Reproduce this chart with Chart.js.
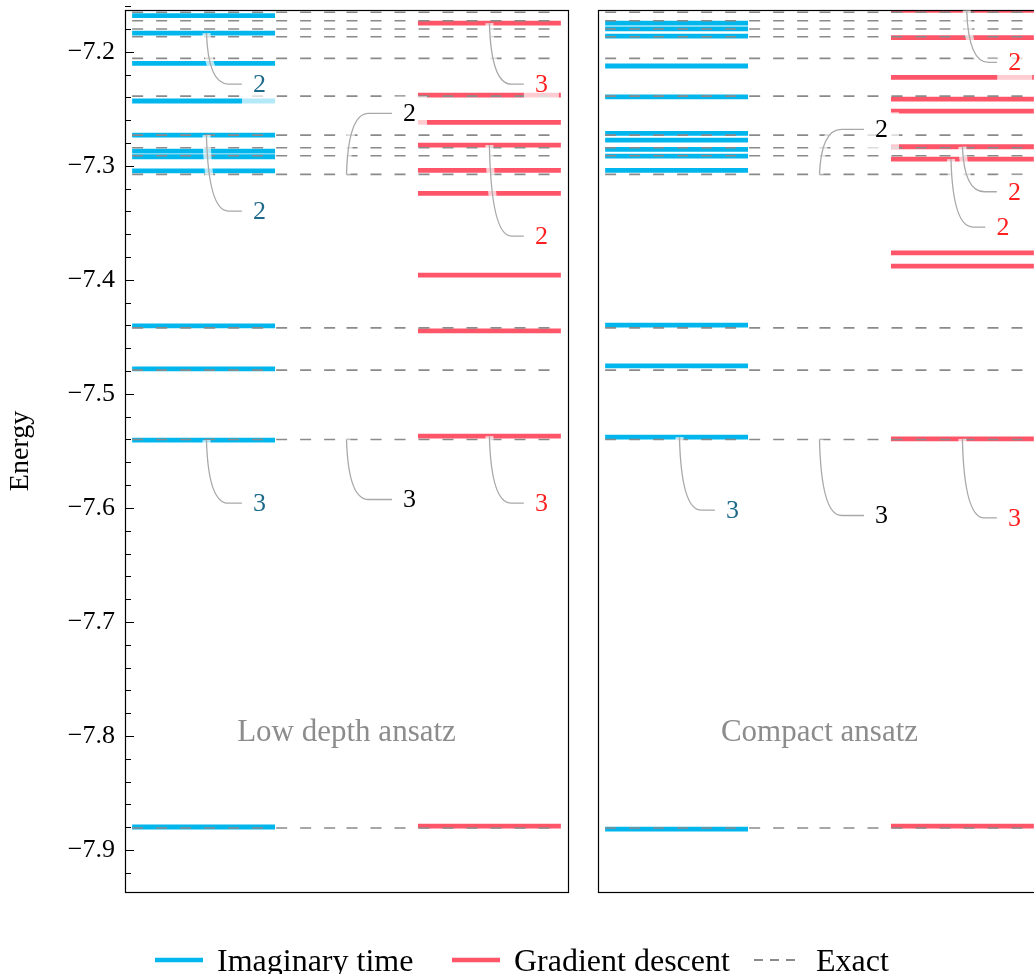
<!DOCTYPE html>
<html>
<head>
<meta charset="utf-8">
<script src="https://cdn.jsdelivr.net/npm/chart.js@4.4.1/dist/chart.umd.min.js"></script>
<style>
  html, body { margin: 0; padding: 0; background: #fff; }
  body { width: 1034px; height: 974px; overflow: hidden; position: relative; font-family: 'Liberation Serif', serif; }
  canvas { position: absolute; top: 0; }
  #left { left: 0; }
  #right { left: 590px; }
  .leg { position: absolute; top: 940px; height: 40px; display: flex; align-items: center; font-size: 32px; color: #000; }
  .leg svg { margin-right: 14px; }
</style>
</head>
<body>
<canvas id="left" width="580" height="974"></canvas>
<canvas id="right" width="460" height="974"></canvas>
<div id="legend"></div>
<script>
// ─── Data ───
const seriesLabels = ['Imaginary time', 'Gradient descent', 'Exact'];
const panelTitles = ['Low depth ansatz', 'Compact ansatz'];
const yTicks = [-7.9, -7.8, -7.7, -7.6, -7.5, -7.4, -7.3, -7.2];

const exactLevels = [-7.1654, -7.1728, -7.1801, -7.1868, -7.2058, -7.2389, -7.2731,
  -7.2842, -7.2912, -7.3075, -7.4421, -7.4792, -7.5400, -7.8807];

const lowDepthImag = [-7.1684, -7.1836, -7.2102, -7.2432, -7.2731, -7.2871, -7.2921,
  -7.3044, -7.4403, -7.4781, -7.5406, -7.8798];
const lowDepthGrad = [-7.1749, -7.2380, -7.2619, -7.2818, -7.3040, -7.3242, -7.3959,
  -7.4447, -7.5371, -7.8790];

const compactImag = [-7.1749, -7.1799, -7.1863, -7.2125, -7.2395, -7.2716, -7.2775,
  -7.2856, -7.2915, -7.3040, -7.4397, -7.4754, -7.5380, -7.8816];
const compactGrad = [-7.1638, -7.1877, -7.2225, -7.2415, -7.2520, -7.2833, -7.2941,
  -7.3763, -7.3880, -7.5395, -7.8790];

// degeneracies: [series, level, count]
const lowDepthDegen = [['imag', -7.1836, 2], ['imag', -7.2731, 2], ['imag', -7.5406, 3],
  ['exact', -7.3075, 2], ['exact', -7.5400, 3],
  ['grad', -7.1749, 3], ['grad', -7.2818, 2], ['grad', -7.5371, 3]];
const compactDegen = [['imag', -7.5380, 3], ['exact', -7.3075, 2], ['exact', -7.5400, 3],
  ['grad', -7.1638, 2], ['grad', -7.2833, 2], ['grad', -7.2941, 2], ['grad', -7.5395, 3]];

// ─── Layout / style ───
const COLORS = { imag: '#00b6ec', grad: '#ff5569', exact: '#8a8a8a' };
const LABEL_COLORS = { imag: '#1d6a8b', grad: '#ff1f1f', exact: '#000000' };
const FONT = "'Liberation Serif', serif";
// where each degeneracy label sits: [x of connector start (data), dx px, dy px]
const lowDepthAnnoPos = [[0.52, 53, 51], [0.52, 53, 76], [0.52, 53, 63], [1.5, 63, -61],
  [1.5, 63, 60], [2.5, 52, 61], [2.5, 52, 91], [2.5, 52, 67]];
const compactAnnoPos = [[0.52, 53, 73], [1.5, 62, -45], [1.5, 62, 76], [2.53, 48, 52],
  [2.5, 52, 45], [2.42, 52, 68], [2.5, 52, 79]];

function levelSets(values, x0, x1, color) {
  return values.map(v => ({
    data: [{ x: x0, y: v }, { x: x1, y: v }],
    borderColor: color, borderWidth: 4.8, pointRadius: 0, order: 1
  }));
}

// exact lines are drawn in two halves (dash pattern restarts in the middle)
function exactSets(values) {
  return values.flatMap(v => [[0, 1.5], [1.5, 3]].map(([a, b]) => ({
    data: [{ x: a, y: v }, { x: b, y: v }],
    borderColor: COLORS.exact, borderWidth: 1.6, borderDash: [11, 13],
    pointRadius: 0, order: 0
  })));
}

// frame, inward ticks, panel title
const framePlugin = {
  id: 'frame',
  afterDatasetsDraw(chart, args, opts) {
    const { ctx, chartArea: a, scales: { y } } = chart;
    ctx.save();
    ctx.strokeStyle = '#000';
    ctx.lineWidth = 1.2;
    ctx.strokeRect(Math.round(a.left) + 0.5, Math.round(a.top) + 0.5,
      Math.round(a.right - a.left), Math.round(a.bottom - a.top));
    if (opts.ticks) {
      ctx.lineWidth = 1;
      for (let v = -7.92; v <= -7.16; v += 0.02) {
        const py = Math.round(y.getPixelForValue(v)) + 0.5;
        const major = yTicks.some(t => Math.abs(t - v) < 1e-6);
        ctx.beginPath();
        ctx.moveTo(a.left, py);
        ctx.lineTo(a.left + (major ? 9 : 6), py);
        ctx.stroke();
      }
    }
    ctx.fillStyle = '#8c8c8c';
    ctx.font = '31px ' + FONT;
    ctx.textAlign = 'center';
    ctx.textBaseline = 'middle';
    ctx.fillText(opts.title, (a.left + a.right) / 2, y.getPixelForValue(-7.797));
    ctx.restore();
  }
};

// degeneracy labels with curved connectors
const degenPlugin = {
  id: 'degen',
  afterDatasetsDraw(chart, args, opts) {
    const { ctx, scales: { x, y } } = chart;
    ctx.save();
    ctx.font = '26px ' + FONT;
    opts.items.forEach(([series, level, n], i) => {
      const [xd, dx, dy] = opts.pos[i];
      const x0 = x.getPixelForValue(xd), y0 = y.getPixelForValue(level);
      const cx = x0 + dx, cy = y0 + dy;
      const label = String(n);
      const w = ctx.measureText(label).width;
      const bl = cx - w / 2 - 11;
      const path = () => {
        ctx.beginPath();
        ctx.moveTo(x0, y0);
        ctx.bezierCurveTo(x0 + 1, y0 + 0.55 * dy, x0 + 6, cy, x0 + 22, cy);
        ctx.lineTo(bl, cy);
      };
      path();
      ctx.strokeStyle = 'rgba(255,255,255,0.7)';
      ctx.lineWidth = 8;
      ctx.stroke();
      path();
      ctx.strokeStyle = '#a8a8a8';
      ctx.lineWidth = 1.3;
      ctx.stroke();
      ctx.fillStyle = 'rgba(255,255,255,0.7)';
      ctx.fillRect(bl, cy - 17, w + 22, 37);
      ctx.fillStyle = LABEL_COLORS[series];
      ctx.textAlign = 'center';
      ctx.textBaseline = 'middle';
      ctx.fillText(label, cx, cy + 1);
    });
    ctx.restore();
  }
};

function makeChart(id, imag, grad, degen, pos, title, showAxis, padding) {
  return new Chart(document.getElementById(id), {
    type: 'line',
    data: {
      datasets: [
        ...levelSets(imag, 0, 1, COLORS.imag),
        ...levelSets(grad, 2, 3, COLORS.grad),
        ...exactSets(exactLevels)
      ]
    },
    options: {
      responsive: false,
      animation: false,
      layout: { padding },
      scales: {
        x: { type: 'linear', min: -0.05, max: 3.05, display: false },
        y: {
          type: 'linear', min: -7.9368, max: -7.1634,
          display: showAxis,
          afterBuildTicks: s => { s.ticks = yTicks.map(v => ({ value: v })); },
          afterFit: s => {
            s.width = showAxis ? 125 : 0;
            s.paddingTop = 0;
            s.paddingBottom = 0;
          },
          grid: { display: false, drawTicks: false },
          border: { display: false },
          ticks: {
            padding: 10, color: '#000',
            font: { family: FONT, size: 26 },
            callback: v => '\u2212' + Math.abs(v).toFixed(1)
          },
          title: {
            display: true, text: 'Energy', color: '#000',
            font: { family: FONT, size: 28, lineHeight: 1.2 },
            padding: { top: 4, bottom: 0 }
          }
        }
      },
      plugins: {
        legend: { display: false },
        tooltip: { enabled: false },
        frame: { ticks: showAxis, title },
        degen: { items: degen, pos }
      }
    },
    plugins: [framePlugin, degenPlugin]
  });
}

makeChart('left', lowDepthImag, lowDepthGrad, lowDepthDegen, lowDepthAnnoPos, panelTitles[0], true,
  { top: 10, bottom: 82, left: 0, right: 12 });
makeChart('right', compactImag, compactGrad, compactDegen, compactAnnoPos, panelTitles[1], false,
  { top: 10, bottom: 82, left: 8, right: 9 });

// ─── Legend ───
const legendItems = [
  { text: seriesLabels[0], color: COLORS.imag, dash: '', width: 4.5, left: 155 },
  { text: seriesLabels[1], color: COLORS.grad, dash: '', width: 4.5, left: 452 },
  { text: seriesLabels[2], color: COLORS.exact, dash: '9 7', width: 2, left: 754 }
];
const legend = document.getElementById('legend');
legendItems.forEach(it => {
  const d = document.createElement('div');
  d.className = 'leg';
  d.style.left = it.left + 'px';
  d.innerHTML = `<svg width="48" height="10"><line x1="0" y1="5" x2="48" y2="5" stroke="${it.color}"
    stroke-width="${it.width}" stroke-dasharray="${it.dash}"/></svg><span>${it.text}</span>`;
  legend.appendChild(d);
});
</script>
</body>
</html>
